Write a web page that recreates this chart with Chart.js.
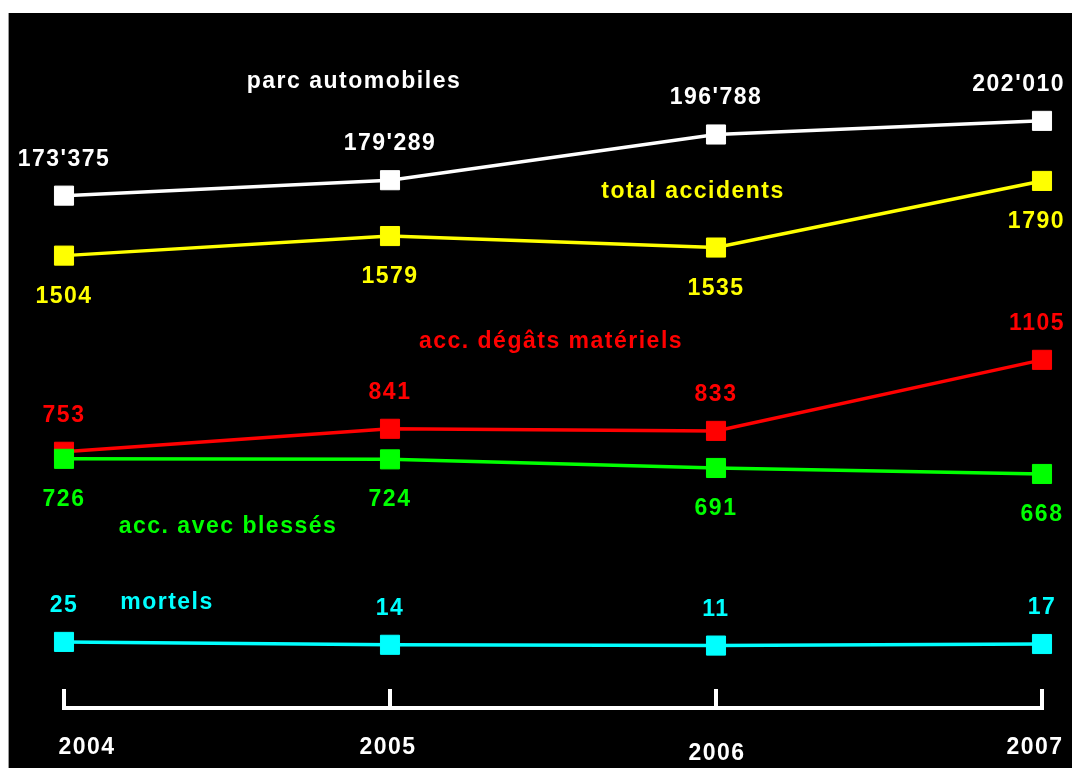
<!DOCTYPE html>
<html>
<head>
<meta charset="utf-8">
<script src="https://cdn.jsdelivr.net/npm/chart.js@4/dist/chart.umd.min.js"></script>
<style>
  html, body { margin: 0; padding: 0; background: #fff; }
  #frame { position: absolute; left: 8px; top: 13px; width: 1064px; height: 755px;
           background: #000; border-left: 1px solid #9a9a9a; box-sizing: border-box; }
  #chart { position: absolute; left: 1px; top: 0; }
</style>
</head>
<body>
<div id="frame"><canvas id="chart" width="1063" height="755"></canvas></div>
<script>
const years = ['2004', '2005', '2006', '2007'];
const parcAutomobiles = [173375, 179289, 196788, 202010];
const totalAccidents = [1504, 1579, 1535, 1790];
const degatsMateriels = [753, 841, 833, 1105];
const avecBlesses = [726, 724, 691, 668];
const mortels = [25, 14, 11, 17];

const FONT = 'bold 23px "Liberation Sans", Arial, sans-serif';

// swiss style thousands, only for the big numbers
function fmt(v) {
    if (v < 10000) return String(v);
    return String(v).replace(/\B(?=(\d{3})+(?!\d))/g, "'");
}

// label side for each series: -1 above the point, 1 below
const series = [
    { label: 'parc automobiles', data: parcAutomobiles, color: '#ffffff', axis: 'y1', side: -1, order: 0 },
    { label: 'total accidents', data: totalAccidents, color: '#ffff00', axis: 'y', side: 1, order: 1 },
    { label: 'acc. dégâts matériels', data: degatsMateriels, color: '#ff0000', axis: 'y', side: -1, order: 3 },
    { label: 'acc. avec blessés', data: avecBlesses, color: '#00ff00', axis: 'y', side: 1, order: 2 },
    { label: 'mortels', data: mortels, color: '#00ffff', axis: 'y', side: -1, order: 4 }
];

// series names written on the plot
const names = [
    { text: 'parc automobiles', color: '#ffffff', x: 344, y: 75 },
    { text: 'total accidents', color: '#ffff00', x: 683, y: 185 },
    { text: 'acc. dégâts matériels', color: '#ff0000', x: 541, y: 335 },
    { text: 'acc. avec blessés', color: '#00ff00', x: 218, y: 520 },
    { text: 'mortels', color: '#00ffff', x: 157, y: 596 }
];

const labelsPlugin = {
    id: 'labels',
    afterDatasetsDraw(chart) {
        const ctx = chart.ctx;
        const area = chart.chartArea;
        ctx.save();
        ctx.font = FONT;
        ctx.letterSpacing = '1.5px';
        ctx.textBaseline = 'alphabetic';

        // value labels
        chart.data.datasets.forEach((ds, i) => {
            const meta = chart.getDatasetMeta(i);
            ctx.fillStyle = ds.borderColor;
            ctx.textAlign = 'center';
            meta.data.forEach((pt, j) => {
                const txt = fmt(ds.data[j]);
                const w = ctx.measureText(txt).width;
                let x = pt.x;
                if (x + w / 2 > chart.width - 8) x = chart.width - 8 - w / 2;
                const y = ds.side < 0 ? pt.y - 30 : pt.y + 47;
                ctx.fillText(txt, x, y);
            });
        });

        // series names
        names.forEach(n => {
            ctx.fillStyle = n.color;
            ctx.textAlign = 'center';
            ctx.fillText(n.text, n.x, n.y);
        });

        // x axis bracket
        const xs = chart.scales.x;
        const yb = area.bottom;
        ctx.fillStyle = '#ffffff';
        ctx.fillRect(area.left - 2, yb - 2, area.right - area.left + 4, 4);
        years.forEach((yr, i) => {
            const x = xs.getPixelForValue(i);
            ctx.fillRect(x - 2, yb - 19, 4, 19);
        });

        // year labels
        const nudgeX = [23, -2, 1, -7];
        const nudgeY = [0, 0, 6, 0];
        years.forEach((yr, i) => {
            const x = xs.getPixelForValue(i);
            ctx.fillText(yr, x + nudgeX[i], yb + 46 + nudgeY[i]);
        });
        ctx.restore();
    }
};

new Chart(document.getElementById('chart'), {
    type: 'line',
    data: {
        labels: years,
        datasets: series.map(s => ({
            label: s.label,
            data: s.data,
            yAxisID: s.axis,
            borderColor: s.color,
            backgroundColor: s.color,
            borderWidth: 3.5,
            pointStyle: 'rect',
            pointRadius: 13.5,
            pointBorderWidth: 1,
            pointBorderColor: s.color,
            pointBackgroundColor: s.color,
            tension: 0,
            fill: false,
            clip: false,
            order: s.order,
            side: s.side
        }))
    },
    options: {
        responsive: false,
        animation: false,
        layout: { padding: { left: 54, right: 31, top: 47, bottom: 60 } },
        plugins: {
            legend: { display: false },
            tooltip: { enabled: false }
        },
        scales: {
            x: { type: 'category', display: false, offset: false },
            y: { display: false, min: -228, max: 2253 },
            y1: { display: false, min: -22780, max: 225310 }
        }
    },
    plugins: [labelsPlugin]
});
</script>
</body>
</html>
